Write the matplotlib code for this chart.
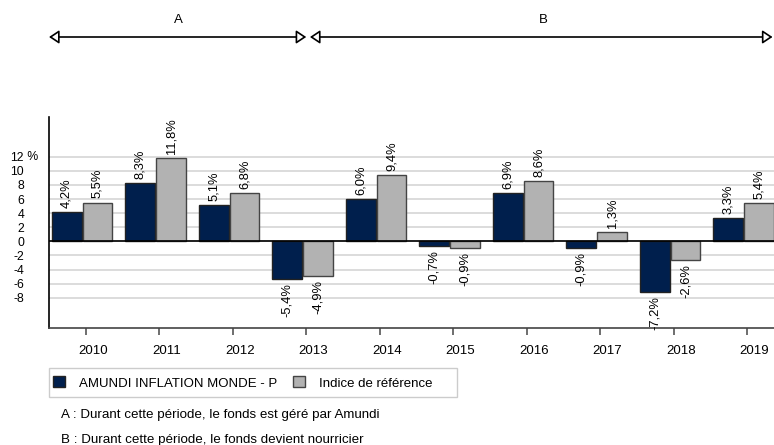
import matplotlib
matplotlib.use("Agg")
import matplotlib.pyplot as plt
from matplotlib.patches import Rectangle, Patch
from matplotlib.transforms import ScaledTranslation
import numpy as np

plt.rcParams['font.family'] = ['Liberation Sans', 'DejaVu Sans']

years = ['2010', '2011', '2012', '2013', '2014', '2015', '2016', '2017', '2018', '2019']
fund = [4.2, 8.3, 5.1, -5.4, 6.0, -0.7, 6.9, -0.9, -7.2, 3.3]
bench = [5.5, 11.8, 6.8, -4.9, 9.4, -0.9, 8.6, 1.3, -2.6, 5.4]
fund_name = 'AMUNDI INFLATION MONDE - P'
bench_name = 'Indice de référence'
yticks = [-8, -6, -4, -2, 0, 2, 4, 6, 8, 10, 12]
note_a = 'A : Durant cette période, le fonds est géré par Amundi'
note_b = 'B : Durant cette période, le fonds devient nourricier'

W, H = 774, 445
fig = plt.figure(figsize=(W / 100, H / 100), dpi=100)
ax = fig.add_axes([49 / W, 117 / H, (W - 49) / W, (328 - 117.3) / H])

dark = '#001f4d'
grey = '#b2b2b2'
edge = '#333333'
x = np.arange(len(years))
bw = 0.405
ax.bar(x - 0.26, fund, bw, color=dark, edgecolor='#222222', linewidth=1.0, zorder=3)
ax.bar(x + 0.16, bench, bw, color=grey, edgecolor='#444444', linewidth=1.0, zorder=3)

for xs, vals in ((x - 0.26, fund), (x + 0.16, bench)):
    for xi, v in zip(xs, vals):
        lab = f'{v:.1f}%'.replace('.', ',')
        if v >= 0:
            ax.annotate(lab, (xi, v), xytext=(0, 3), textcoords='offset points',
                        rotation=90, ha='center', va='bottom', fontsize=9.3,
                        annotation_clip=False)
        else:
            ax.annotate(lab, (xi, v), xytext=(0, -3), textcoords='offset points',
                        rotation=90, ha='center', va='top', fontsize=9.3,
                        annotation_clip=False)

ax.set_xlim(-0.5, -0.5 + (W - 49) / 73.5)
ax.set_ylim(-12.3, 17.6)
for t in yticks:
    ax.axhline(t, color='#dcdcdc', linewidth=1.4, zorder=1)
ax.axhline(0, color='black', linewidth=1.2, zorder=4)

ax.set_yticks(yticks)
ax.set_yticklabels([str(t) for t in yticks], fontsize=8.8)
ax.tick_params(axis='y', length=0, pad=25 * 0.72)
ax.text(-0.5, 12, ' %', transform=ax.transData + ScaledTranslation(-25 / 100, 0, fig.dpi_scale_trans),
        ha='left', va='center', fontsize=8.8)

ax.set_xticks(x)
ax.set_xticklabels([])
ax.tick_params(axis='x', length=5, width=1.2, color='#555555')
ax.set_xticks(x + 0.1, minor=True)
ax.set_xticklabels(years, minor=True, fontsize=9.5)
ax.tick_params(axis='x', which='minor', length=0, pad=12)

for s in ('top', 'right'):
    ax.spines[s].set_visible(False)
ax.spines['left'].set_linewidth(1.2)
ax.spines['bottom'].set_linewidth(1.2)
ax.spines['bottom'].set_color('#444444')
ax.set_facecolor('white')

# period arrows
arrow_kw = dict(arrowstyle='<|-|>,head_length=0.6,head_width=0.4', edgecolor='black',
                facecolor='white', lw=1.2, shrinkA=0, shrinkB=0)
y_arr = 1 - 37 / H
ax.annotate('', xy=(3.0, y_arr), xytext=(-0.5, y_arr), xycoords=('data', 'figure fraction'),
            textcoords=('data', 'figure fraction'), arrowprops=arrow_kw, annotation_clip=False)
ax.annotate('', xy=(ax.get_xlim()[1] - 0.02, y_arr), xytext=(3.05, y_arr),
            xycoords=('data', 'figure fraction'), textcoords=('data', 'figure fraction'),
            arrowprops=arrow_kw, annotation_clip=False)
fig.text(178 / W, 1 - 20 / H, 'A', ha='center', va='center', fontsize=9.5)
fig.text(543 / W, 1 - 20 / H, 'B', ha='center', va='center', fontsize=9.5)

# legend
fig.patches.append(Rectangle((49 / W, 1 - 397 / H), (457 - 49) / W, 29 / H,
                             transform=fig.transFigure, facecolor='white',
                             edgecolor='#cccccc', linewidth=1.0))
handles = [Patch(facecolor=dark, edgecolor='#222222'), Patch(facecolor=grey, edgecolor='#444444')]
fig.legend(handles, [fund_name, bench_name], loc='center left',
           bbox_to_anchor=(53 / W - 0.005, 1 - 383 / H), ncol=2, frameon=False,
           fontsize=9.5, handlelength=0.9, handleheight=0.9, handletextpad=1.05,
           columnspacing=1.2, borderpad=0.3, borderaxespad=0)

fig.text(61 / W, 1 - 415 / H, note_a, ha='left', va='center', fontsize=9.6)
fig.text(61 / W, 1 - 440 / H, note_b, ha='left', va='center', fontsize=9.6)

fig.savefig('out.png', dpi=100)
